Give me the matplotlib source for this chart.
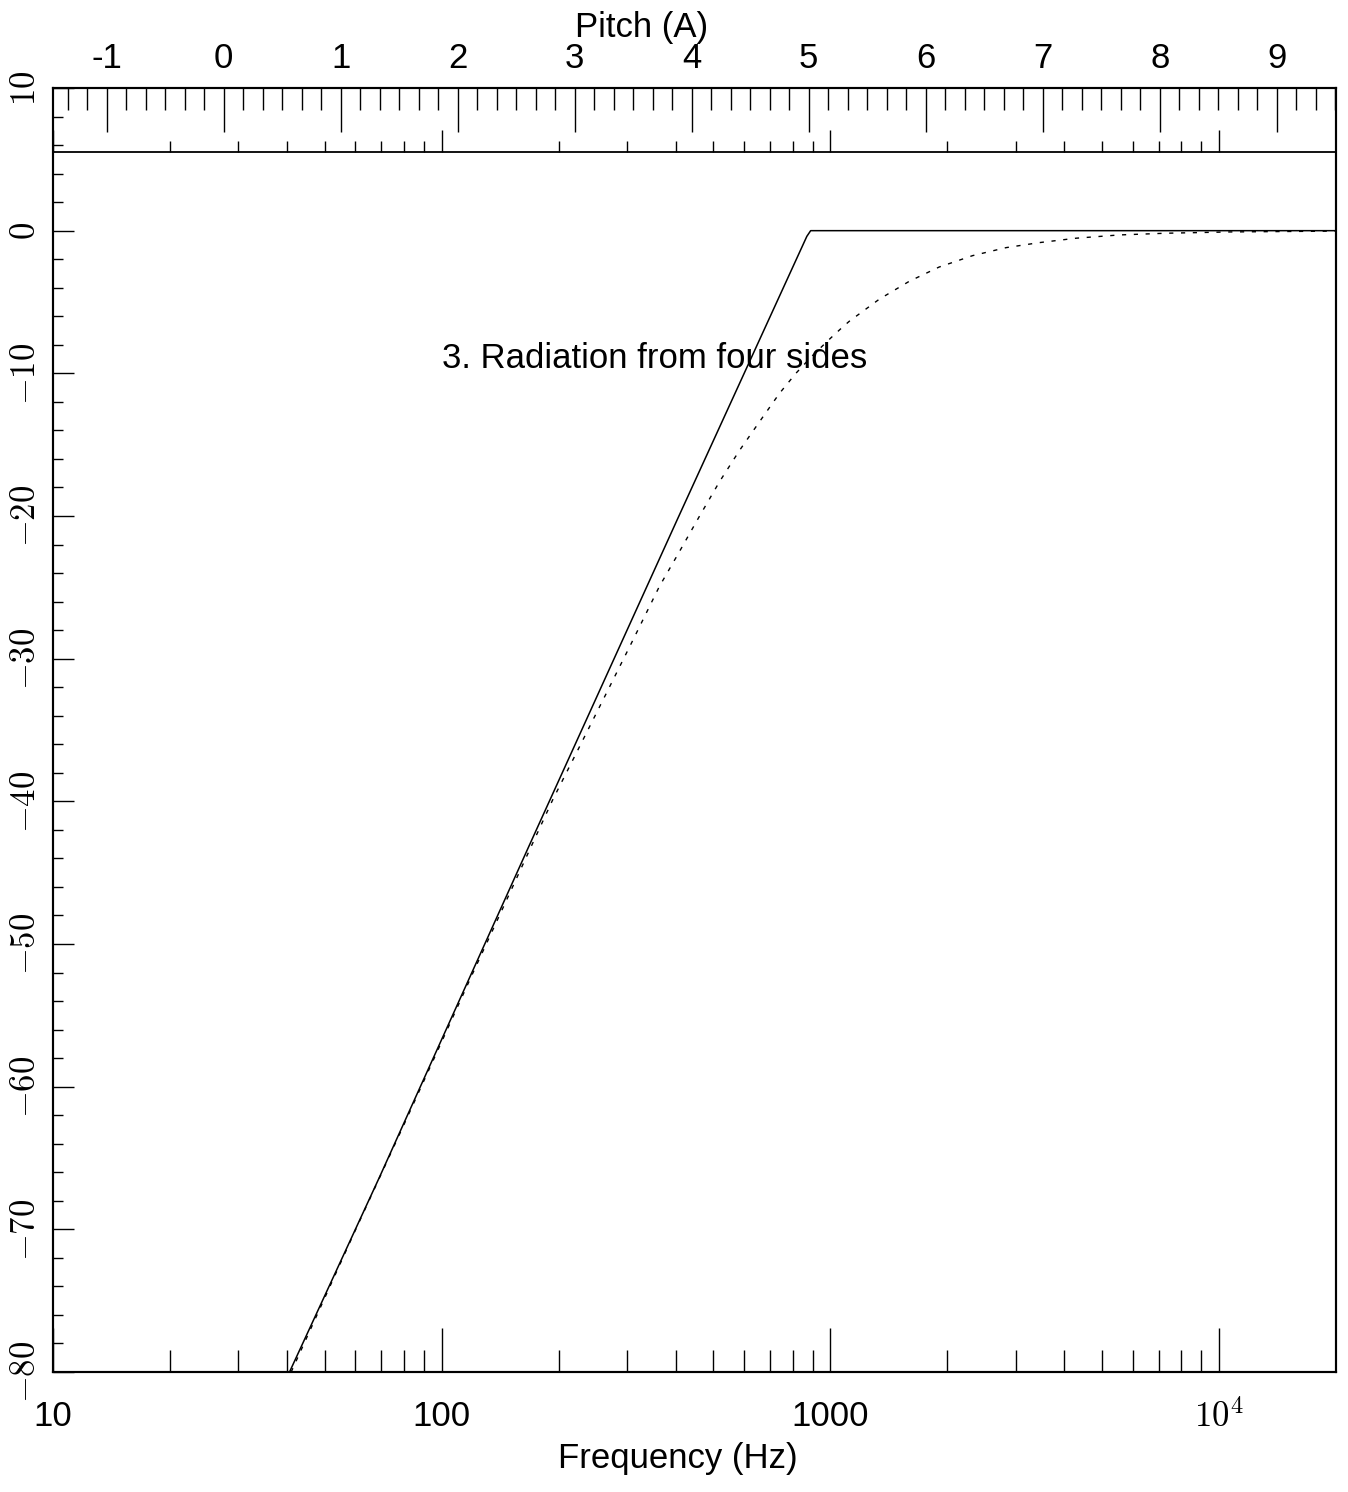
import numpy as np
import matplotlib
matplotlib.use('Agg')
import matplotlib.pyplot as plt
from matplotlib.ticker import FixedLocator, FixedFormatter, MultipleLocator, NullFormatter

plt.rcParams['font.family'] = ['Liberation Sans', 'DejaVu Sans']
plt.rcParams['mathtext.fontset'] = 'cm'

# solid curve
freq_solid = [40.6, 69.3, 166.7, 404.6, 870, 890, 20000]
db_solid = [-80.0, -66.3, -43.3, -20.2, -0.4, 0.0, 0.0]

# dotted curve
freq_dash = [41, 60, 80, 100, 120, 145, 171.7, 193, 226, 265, 310.5, 363, 405, 460,
             518.5, 584, 657, 740, 816, 900, 1000, 1076, 1119, 1337, 1596, 1905, 2323,
             2832, 3445, 4283, 5537, 7297, 10620, 20000]
db_dash = [-80.0, -70.05, -62.65, -56.85, -52.1, -47.25, -42.9, -39.9, -36.2, -32.45,
           -28.7, -24.95, -22.7, -20.04, -17.6, -15.4, -13.4, -11.4, -9.99, -8.75,
           -7.55, -6.75, -6.35, -4.8, -3.55, -2.55, -1.75, -1.19, -0.84, -0.53, -0.30,
           -0.18, -0.09, -0.03]

yticks = [10, 0, -10, -20, -30, -40, -50, -60, -70, -80]
ytick_labels = [r'$10$', r'$0$', r'$-10$', r'$-20$', r'$-30$', r'$-40$', r'$-50$',
                r'$-60$', r'$-70$', r'$-80$']
xticks = [10, 100, 1000, 10000]
xtick_labels = ['10', '100', '1000', r'$10^4$']
pitch_ticks = [-1, 0, 1, 2, 3, 4, 5, 6, 7, 8, 9]
pitch_labels = ['-1', '0', '1', '2', '3', '4', '5', '6', '7', '8', '9']

W, H = 1348, 1492
fig = plt.figure(figsize=(W / 100, H / 100), dpi=100)
L, R, T, B = 53, 1336, 88, 1372
ax = fig.add_axes([L / W, (H - B) / H, (R - L) / W, (B - T) / H])

ax.plot(freq_solid, db_solid, color='black', lw=1.1)
ax.plot(freq_dash, db_dash, color='black', lw=1.0, linestyle=(0, (3, 5.5)))
ax.set_xscale('log')
ax.set_xlim(10, 20000)
ax.set_ylim(-80, 10)

for s in ax.spines.values():
    s.set_linewidth(1.5)

ax.axhline(5.5, color='black', lw=1.3)

ax.yaxis.set_major_locator(FixedLocator(yticks))
ax.yaxis.set_major_formatter(FixedFormatter(ytick_labels))
ax.yaxis.set_minor_locator(MultipleLocator(2))
ax.tick_params(axis='y', which='major', direction='in', length=15, width=1.0,
               right=False, labelsize=25, pad=8, labelrotation=90)
ax.tick_params(axis='y', which='minor', direction='in', length=7.2, width=1.0, right=False)
for t in ax.get_yticklabels():
    t.set_verticalalignment('center')

ax.xaxis.set_major_locator(FixedLocator(xticks))
ax.xaxis.set_major_formatter(FixedFormatter(xtick_labels))
minor_x = [m * d for d in [10, 100, 1000, 10000] for m in range(2, 10) if m * d < 20000]
ax.xaxis.set_minor_locator(FixedLocator(minor_x))
ax.xaxis.set_minor_formatter(NullFormatter())
ax.tick_params(axis='x', which='major', direction='in', length=31.7, width=1.0,
               top=False, labelsize=25, pad=20)
ax.tick_params(axis='x', which='minor', direction='in', length=15.8, width=1.0, top=False)

# frequency ticks on the separator line
strip = fig.add_axes([L / W, (H - 152) / H, (R - L) / W, 64 / H])
strip.patch.set_visible(False)
strip.set_xscale('log')
strip.set_xlim(10, 20000)
strip.set_yticks([])
for side in ['top', 'left', 'right', 'bottom']:
    strip.spines[side].set_visible(False)
strip.xaxis.set_major_locator(FixedLocator(xticks))
strip.xaxis.set_minor_locator(FixedLocator(minor_x))
strip.xaxis.set_minor_formatter(NullFormatter())
strip.tick_params(axis='x', which='major', direction='in', length=15.8, width=1.0,
                  labelbottom=False)
strip.tick_params(axis='x', which='minor', direction='in', length=7.9, width=1.0)

# pitch axis on top: octaves above A0 = 27.5 Hz
top = ax.twiny()
top.set_xlim(np.log2(10 / 27.5), np.log2(20000 / 27.5))
top.xaxis.set_major_locator(FixedLocator(pitch_ticks))
top.xaxis.set_major_formatter(FixedFormatter(pitch_labels))
top.xaxis.set_minor_locator(MultipleLocator(1 / 6))
top.xaxis.set_minor_formatter(NullFormatter())
top.tick_params(axis='x', which='major', direction='in', length=31.7, width=1.0,
                labelsize=25, pad=9)
top.tick_params(axis='x', which='minor', direction='in', length=15.8, width=1.0)
for s in top.spines.values():
    s.set_linewidth(1.5)

ax.text(100, -9.6, '3. Radiation from four sides', fontsize=25, ha='left', va='baseline')

fig.text(641.7 / W, (H - 36.7) / H, 'Pitch (A)', fontsize=25, ha='center', va='baseline')
fig.text(677.5 / W, (H - 1468) / H, 'Frequency (Hz)', fontsize=25, ha='center', va='baseline')

fig.savefig('out.png', dpi=100)
